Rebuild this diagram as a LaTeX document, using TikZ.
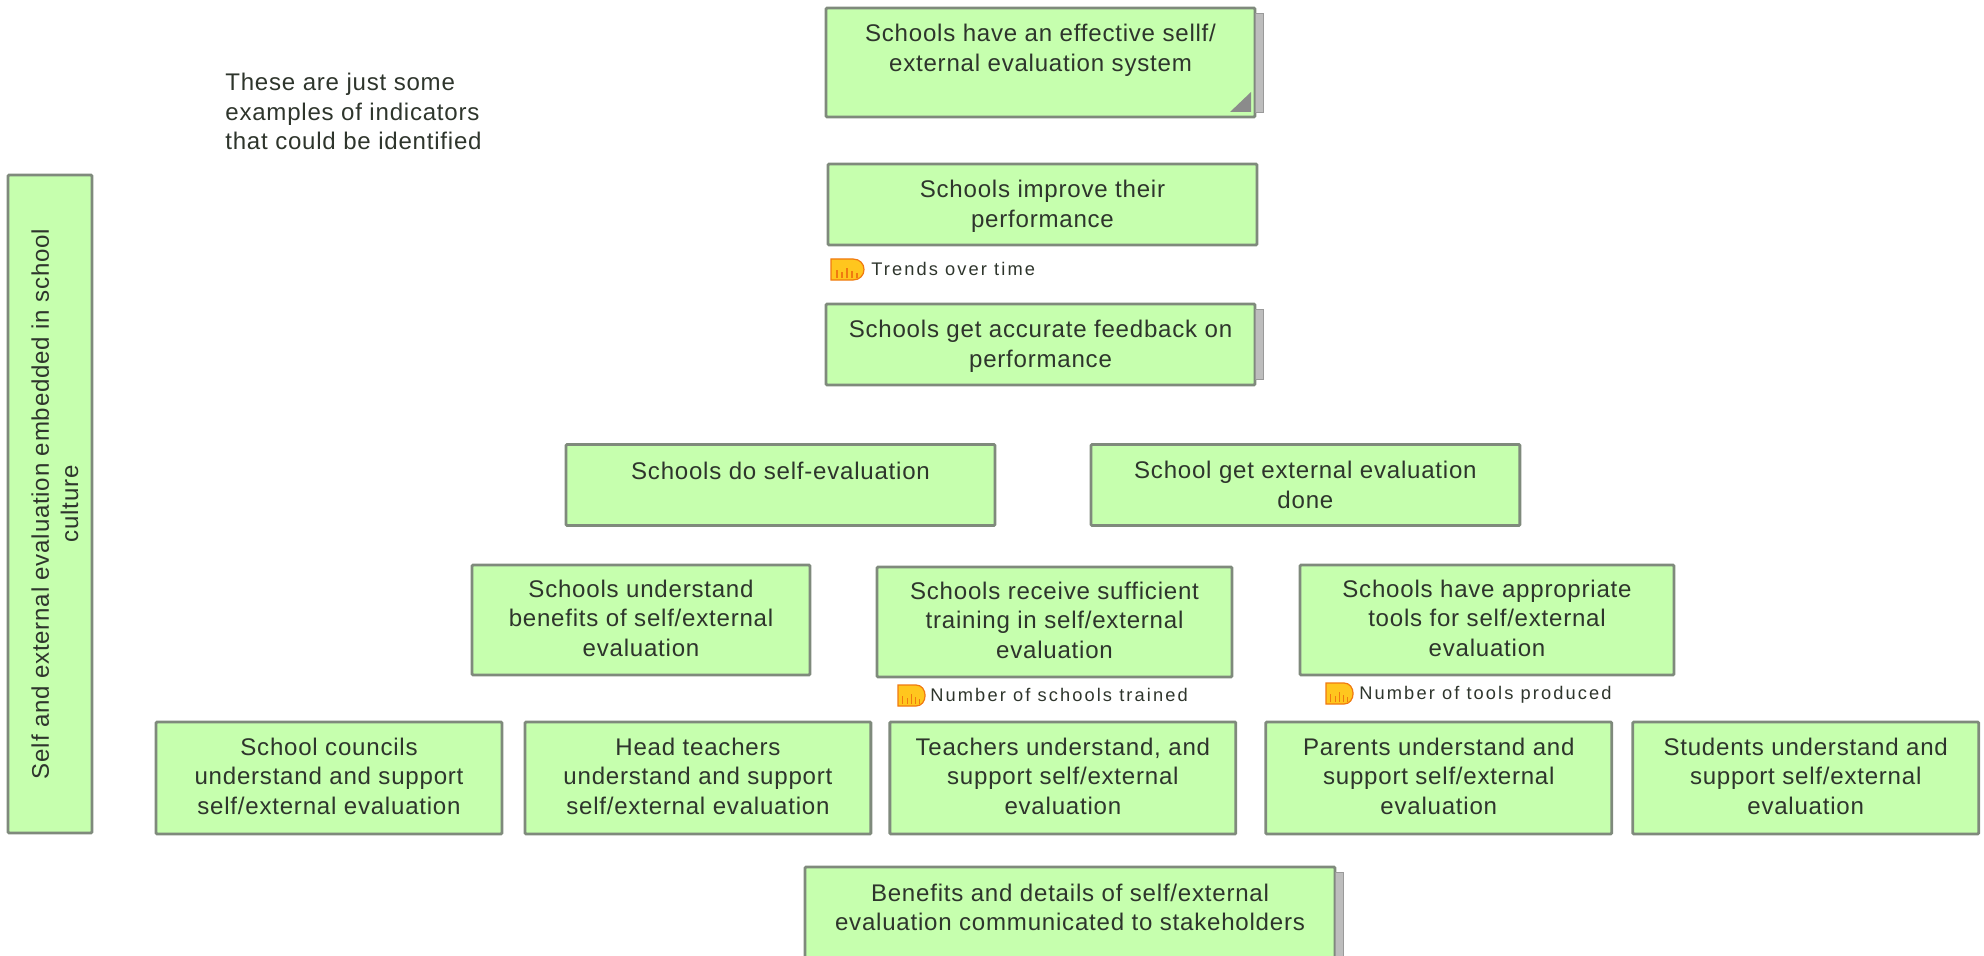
\documentclass[tikz,border=0pt]{standalone}
\usepackage{fontspec}
\setmainfont{Liberation Sans}
\usetikzlibrary{positioning}
\definecolor{goalgreen}{HTML}{C6FFAE}
\definecolor{goalline}{HTML}{7F8A7C}
\definecolor{goaltext}{HTML}{2E352C}
\definecolor{tabgrey}{HTML}{BDBDBD}
\definecolor{tabline}{HTML}{9A9A9A}
\definecolor{iconline}{HTML}{F07A10}
\definecolor{iconfill}{HTML}{FFC61E}
\newcommand{\dropline}{\mbox{}\\[-4.7pt]}
\newcommand{\liftline}{\\[-14.4pt]\mbox{}}
\tikzset{indicon/.pic={
    \draw[iconline,fill=iconfill,line width=0.7pt]
        (0,0) -- (22,0) .. controls (29,0) and (33,5) .. (33,10.5)
        .. controls (33,16) and (29,21) .. (22,21) -- (0,21) -- cycle;
    \foreach \bx/\bh in {6/8,11/6,16/10,21/7,26/5}
        \draw[iconline,line width=0.6pt] (\bx,19) -- (\bx,19-\bh);
}}
\begin{document}
\begin{tikzpicture}[x=0.02cm,y=-0.02cm,node distance=0.4cm]
\tikzstyle{goalbox}=[draw=goalline,fill=goalgreen,line width=1.6pt,rounded corners=0.6pt,outer sep=0pt,inner sep=0pt,align=center,
    text=goaltext,font=\fontsize{13.7}{16.7}\selectfont\addfontfeature{LetterSpace=3.2}]
\tikzstyle{wide}=[goalbox,minimum width=8.58cm,minimum height=1.62cm]
\tikzstyle{row}=[goalbox,minimum width=6.92cm,minimum height=2.24cm]
\tikzstyle{indicator}=[anchor=west,inner sep=0pt,text=goaltext,font=\fontsize{10.4}{12}\selectfont\addfontfeature{LetterSpace=11.5}]
\clip (0,0) rectangle (1984,956);
\node [goalbox,minimum width=8.58cm,minimum height=2.18cm] at (1040.5,62.5) (effective) {Schools have an effective sellf/\\external evaluation system\\ \mbox{}};
\node [wide,below=0.94cm of effective,xshift=0.04cm] (improve) {\dropline Schools improve their\\performance};
\node [wide,below=1.18cm of improve,xshift=-0.04cm] (feedback) {\dropline Schools get accurate feedback on\\performance};
\node [wide] at (780.5,485) (selfeval) {Schools do self-evaluation\\ \mbox{}};
\node [wide,right=1.92cm of selfeval] (external) {School get external evaluation\\done};
\node [goalbox,minimum width=6.76cm,minimum height=2.2cm] at (641,620) (understand) {Schools understand\\benefits of self/external\\evaluation\liftline};
\node [goalbox,minimum width=7.1cm,minimum height=2.2cm] at (1054.5,622) (training) {Schools receive sufficient\\training in self/external\\evaluation\liftline};
\node [goalbox,minimum width=7.48cm,minimum height=2.2cm] at (1487,620) (tools) {Schools have appropriate\\tools for self/external\\evaluation\liftline};
\node [row] at (329,778) (councils) {School councils\\understand and support\\self/external evaluation\liftline};
\node [row,right=0.46cm of councils] (heads) {Head teachers\\understand and support\\self/external evaluation\liftline};
\node [row,right=0.38cm of heads] (teachers) {Teachers understand, and\\support self/external\\evaluation\liftline};
\node [row,right=0.6cm of teachers] (parents) {Parents understand and\\support self/external\\evaluation\liftline};
\node [row,right=0.42cm of parents] (students) {Students understand and\\support self/external\\evaluation\liftline};
\node [goalbox,minimum width=10.6cm,minimum height=2.2cm] at (1070,922) (benefits) {Benefits and details of self/external\\evaluation communicated to stakeholders\\ \mbox{}};
\node [goalbox,rotate=90,minimum width=13.16cm,minimum height=1.68cm] at (50,504) (culture) {\mbox{}\\[-1.2pt]Self and external evaluation embedded in school\\culture};
\node [anchor=north west,inner sep=0pt,align=left,text=goaltext,font=\fontsize{13.7}{16.7}\selectfont\addfontfeature{LetterSpace=3.2}] at (225,73) (note) {These are just some\\examples of indicators\\that could be identified};
% grey tabs
\foreach \tabbed in {effective,feedback,benefits}
    \filldraw[fill=tabgrey,draw=tabline,line width=0.5pt] ([yshift=-0.1cm]\tabbed.north east) -- ++(0.17cm,0) |- ([yshift=0.1cm]\tabbed.south east) -- cycle;
\fill[tabline!90!black] (1230,112) -- (1251,92) -- (1251,112) -- cycle;
% indicators
\node [indicator] at (871,269) (trends) {Trends over time};
\node [indicator] at (930,695) (trained) {Number of schools trained};
\node [indicator] at (1359,695) (produced) {Number of tools produced};
\pic at (831,259) {indicon};
\pic[xscale=0.82] at (898,685) {indicon};
\pic[xscale=0.82] at (1326,683) {indicon};
\end{tikzpicture}
\end{document}
